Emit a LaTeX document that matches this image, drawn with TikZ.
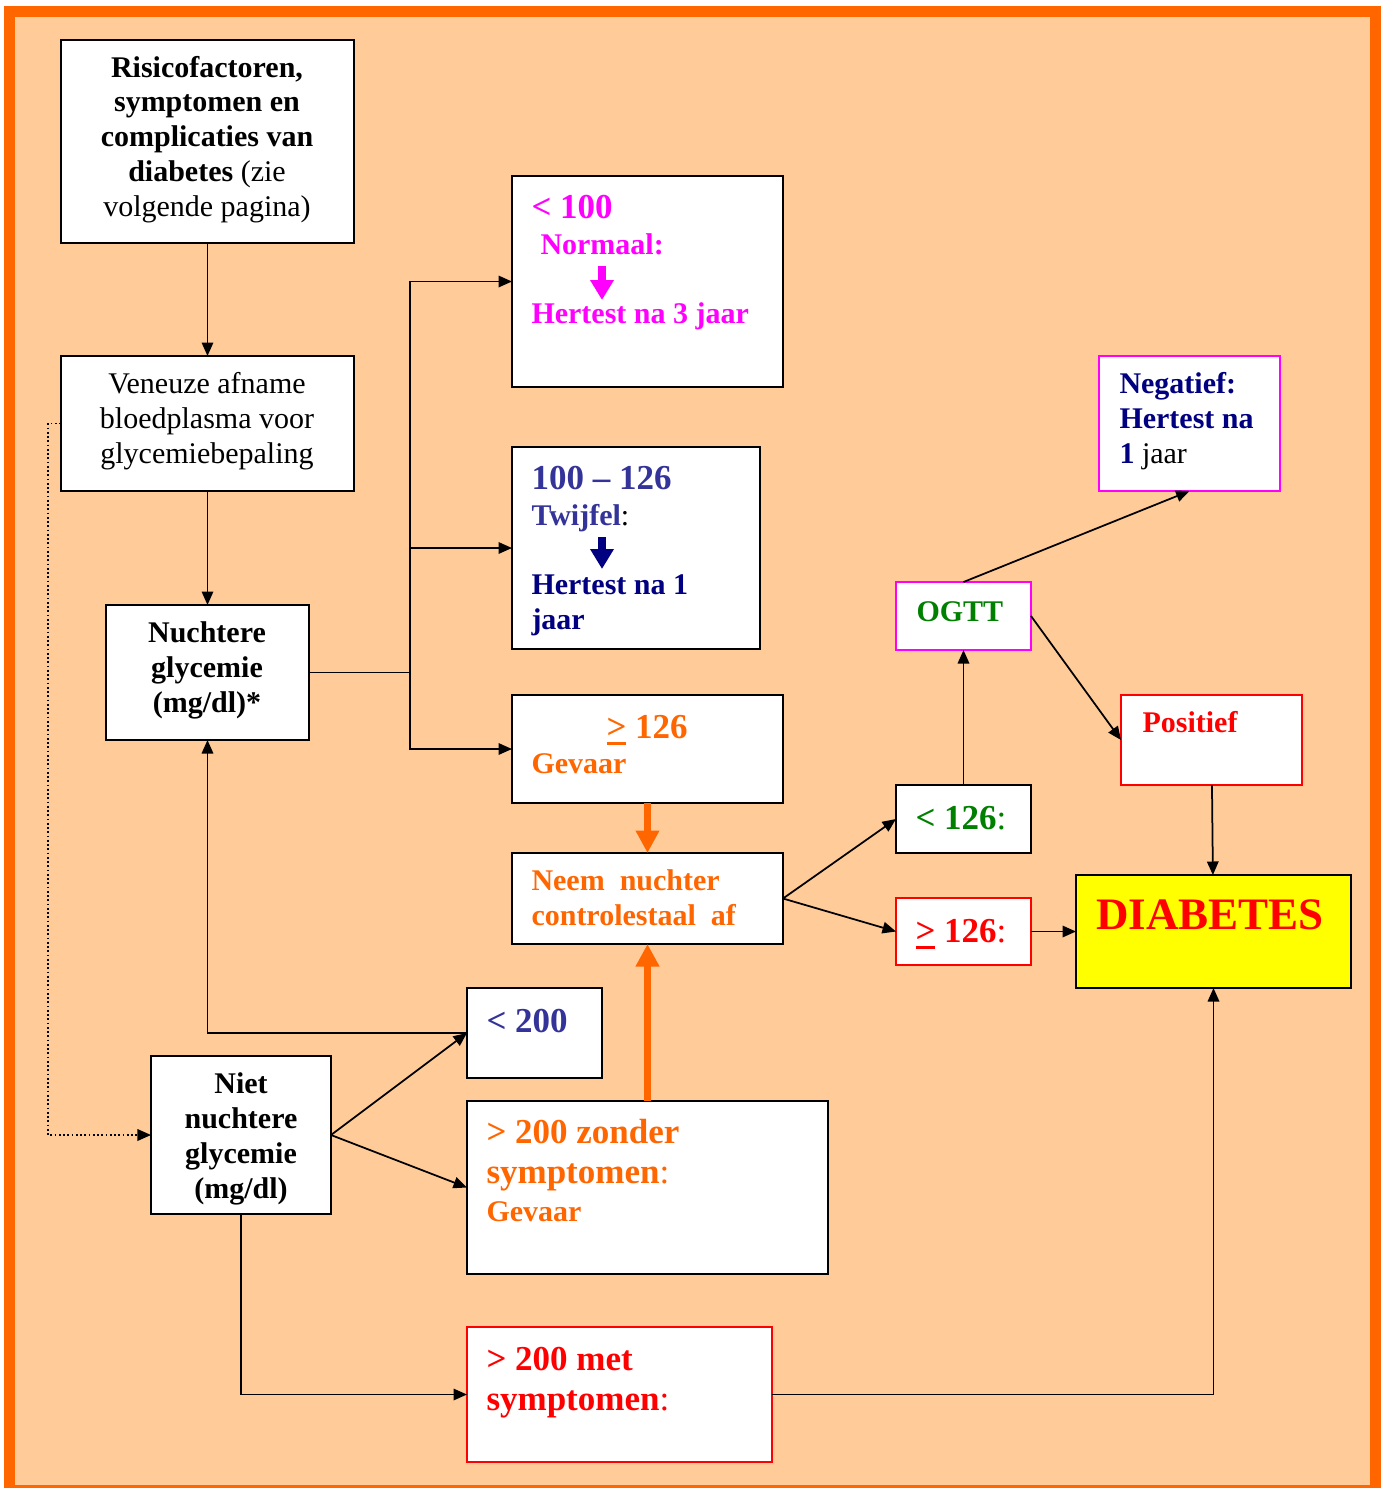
\documentclass[tikz,border=0pt]{standalone}
\usepackage{fontspec}
\setmainfont{Liberation Serif}
\usetikzlibrary{arrows.meta}
\definecolor{perzik}{HTML}{FFCC99}
\definecolor{oranje}{HTML}{FF6600}
\definecolor{roze}{HTML}{FF00FF}
\definecolor{paars}{HTML}{333399}
\definecolor{marine}{HTML}{000080}
\definecolor{groen}{HTML}{008000}
\definecolor{rood}{HTML}{FF0000}
\definecolor{geel}{HTML}{FFFF00}
\newcommand{\grgel}{\rlap{\rule[-2.6pt]{0.57em}{1.1pt}}>}
\begin{document}
\begin{tikzpicture}[
    x=0.4pt, y=-0.4pt,
    blok/.style={draw, fill=white, line width=0.8pt, inner sep=0pt, outer sep=0pt},
    tekst/.style={inner sep=0pt, anchor=base west, align=left},
    midden/.style={inner sep=0pt, anchor=base, align=center},
    twaalf/.style={font=\fontsize{12}{13.9}\selectfont\bfseries},
    veertien/.style={font=\fontsize{14}{16}\selectfont\bfseries},
    pijl/.style={line width=0.7pt, -{Triangle[length=5.4pt, width=4.6pt]}},
    dikkepijl/.style={draw=oranje, line width=2.8pt, -{Triangle[length=9pt, width=9pt]}},
    blokpijl/.style={line width=3.4pt, -{Triangle[length=8pt, width=9pt]}}
]
\useasboundingbox (0,0) rectangle (1385,1488);
% Achtergrond
\fill[oranje] (4,6) rectangle (1381,1488);
\fill[perzik] (15,17) rectangle (1370,1485);
% Linker kolom (tekst staat op de basislijn van de laatste regel)
\node[blok, minimum width=117.2pt, minimum height=81.2pt] (risico) at (207.5,141.5) {};
\node[midden, font=\fontsize{12}{13.9}\selectfont] (risicoT) at (207,216)
  {\textbf{Risicofactoren,}\\\textbf{symptomen en}\\\textbf{complicaties van}\\\textbf{diabetes} (zie\\volgende pagina)};
\node[blok, minimum width=117.2pt, minimum height=54pt] (veneuze) at (207.5,423.5) {};
\node[midden, font=\fontsize{12}{13.9}\selectfont] (veneuzeT) at (207,463)
  {Veneuze afname\\bloedplasma voor\\glycemiebepaling};
\node[blok, minimum width=81.2pt, minimum height=54pt] (nuchtere) at (207.5,672.5) {};
\node[midden, twaalf] (nuchtereT) at (207,712) {Nuchtere\\glycemie\\(mg/dl)*};
\node[blok, minimum width=72pt, minimum height=63.2pt] (niet) at (241,1135) {};
\node[midden, twaalf] (nietT) at (241,1198) {Niet\\nuchtere\\glycemie\\(mg/dl)};
% Nuchtere uitslagen
\node[blok, minimum width=108.4pt, minimum height=84.4pt] (normaal) at (647.5,281.5) {};
\node[tekst, veertien, text=roze] (normaalA) at (531,218) {< 100};
\node[tekst, twaalf, text=roze] (normaalB) at (540,254) {Normaal:};
\node[tekst, twaalf, text=roze] (normaalC) at (531,323) {Hertest na 3 jaar};
\coordinate (normaalP1) at (602,266);
\coordinate (normaalP2) at (602,300);
\draw[blokpijl, roze] (normaalP1) -- (normaalP2);
\node[blok, minimum width=99.2pt, minimum height=80.8pt] (twijfel) at (636,548) {};
\node[tekst, veertien, text=paars] (twijfelA) at (531,489) {100 -- 126};
\node[tekst, twaalf, text=paars] (twijfelB) at (531,525) {Twijfel{\mdseries\color{black}:}};
\node[tekst, twaalf, text=marine] (twijfelC) at (531,629) {Hertest na 1\\jaar};
\coordinate (twijfelP1) at (602,537);
\coordinate (twijfelP2) at (602,569);
\draw[blokpijl, marine] (twijfelP1) -- (twijfelP2);
\node[blok, minimum width=108.4pt, minimum height=43.2pt] (gevaar) at (647.5,749) {};
\node[tekst, veertien, text=oranje] (gevaarA) at (606,738) {\grgel{} 126};
\node[tekst, twaalf, text=oranje] (gevaarB) at (531,773) {Gevaar};
\node[blok, minimum width=108.4pt, minimum height=36.4pt] (neem) at (647.5,898.5) {};
\node[tekst, twaalf, text=oranje] (neemT) at (531,925) {Neem\ \ nuchter\\controlestaal\ \ af};
% Niet nuchtere uitslagen
\node[blok, minimum width=54pt, minimum height=36pt] (kl200) at (534.5,1033) {};
\node[tekst, veertien, text=paars] (kl200T) at (486,1032) {< 200};
\node[blok, minimum width=144.4pt, minimum height=69.2pt] (zonder) at (647.5,1187.5) {};
\node[tekst, veertien, text=oranje] (zonderA) at (486,1183) {> 200 zonder\\symptomen{\mdseries:}};
\node[tekst, twaalf, text=oranje] (zonderB) at (486,1221) {Gevaar};
\node[blok, draw=rood, minimum width=122pt, minimum height=54pt] (met) at (619.5,1394.5) {};
\node[tekst, veertien, text=rood] (metT) at (486,1410) {> 200 met\\symptomen{\mdseries:}};
% Controle
\node[blok, minimum width=54pt, minimum height=27.2pt] (kl126) at (963.5,819) {};
\node[tekst, veertien, text=groen] (kl126T) at (915,829) {< 126{\mdseries:}};
\node[blok, draw=rood, minimum width=54pt, minimum height=26.8pt] (gr126) at (963.5,931.5) {};
\node[tekst, veertien, text=rood] (gr126T) at (915,942) {\grgel{} 126{\mdseries:}};
\node[blok, draw=roze, minimum width=54pt, minimum height=27.2pt] (ogtt) at (963.5,616) {};
\node[tekst, twaalf, text=groen] (ogttT) at (916,621) {OGTT};
\node[blok, draw=roze, minimum width=72.4pt, minimum height=54pt] (negatief) at (1189.5,423.5) {};
\node[tekst, twaalf, text=marine] (negatiefT) at (1119,463) {Negatief:\\Hertest na\\1 {\mdseries\color{black}jaar}};
\node[blok, draw=rood, minimum width=72.4pt, minimum height=36pt] (positief) at (1211.5,740) {};
\node[tekst, twaalf, text=rood] (positiefT) at (1142,732) {Positief};
\node[blok, fill=geel, minimum width=110pt, minimum height=45.2pt] (diabetes) at (1213.5,931.5) {};
\node[midden, font=\fontsize{18}{20}\selectfont\bfseries, text=rood] (diabetesT) at (1210,929) {DIABETES};
% Verbindingen
\coordinate (splits) at (410,672.5);
\draw[pijl] (risico) -- (veneuze);
\draw[pijl] (veneuze) -- (nuchtere);
\draw[line width=0.7pt] (nuchtere.east) -- (splits);
\draw[pijl] (splits) |- (normaal.west);
\draw[pijl] (splits) |- (twijfel.west);
\draw[pijl] (splits) |- (gevaar.west);
\draw[dikkepijl] (gevaar) -- (neem);
\draw[dikkepijl] (zonder) -- (neem);
\draw[pijl] (neem.east) -- (kl126.west);
\draw[pijl] (neem.east) -- (gr126.west);
\draw[pijl] (kl126) -- (ogtt);
\draw[pijl] (ogtt.north) -- (negatief.south);
\draw[pijl] (ogtt.east) -- (positief.west);
\draw[pijl] (positief) -- (diabetes);
\draw[pijl] (gr126) -- (diabetes);
\draw[pijl] (kl200.west) -| (nuchtere.south);
\draw[pijl] (niet.east) -- (kl200.west);
\draw[pijl] (niet.east) -- (zonder.west);
\draw[pijl] (niet.south) |- (met.west);
\draw[pijl] (met.east) -| (diabetes.south);
\draw[pijl, densely dotted] (veneuze.west) -- ++(-13,0) |- (niet.west);
\end{tikzpicture}
\end{document}
